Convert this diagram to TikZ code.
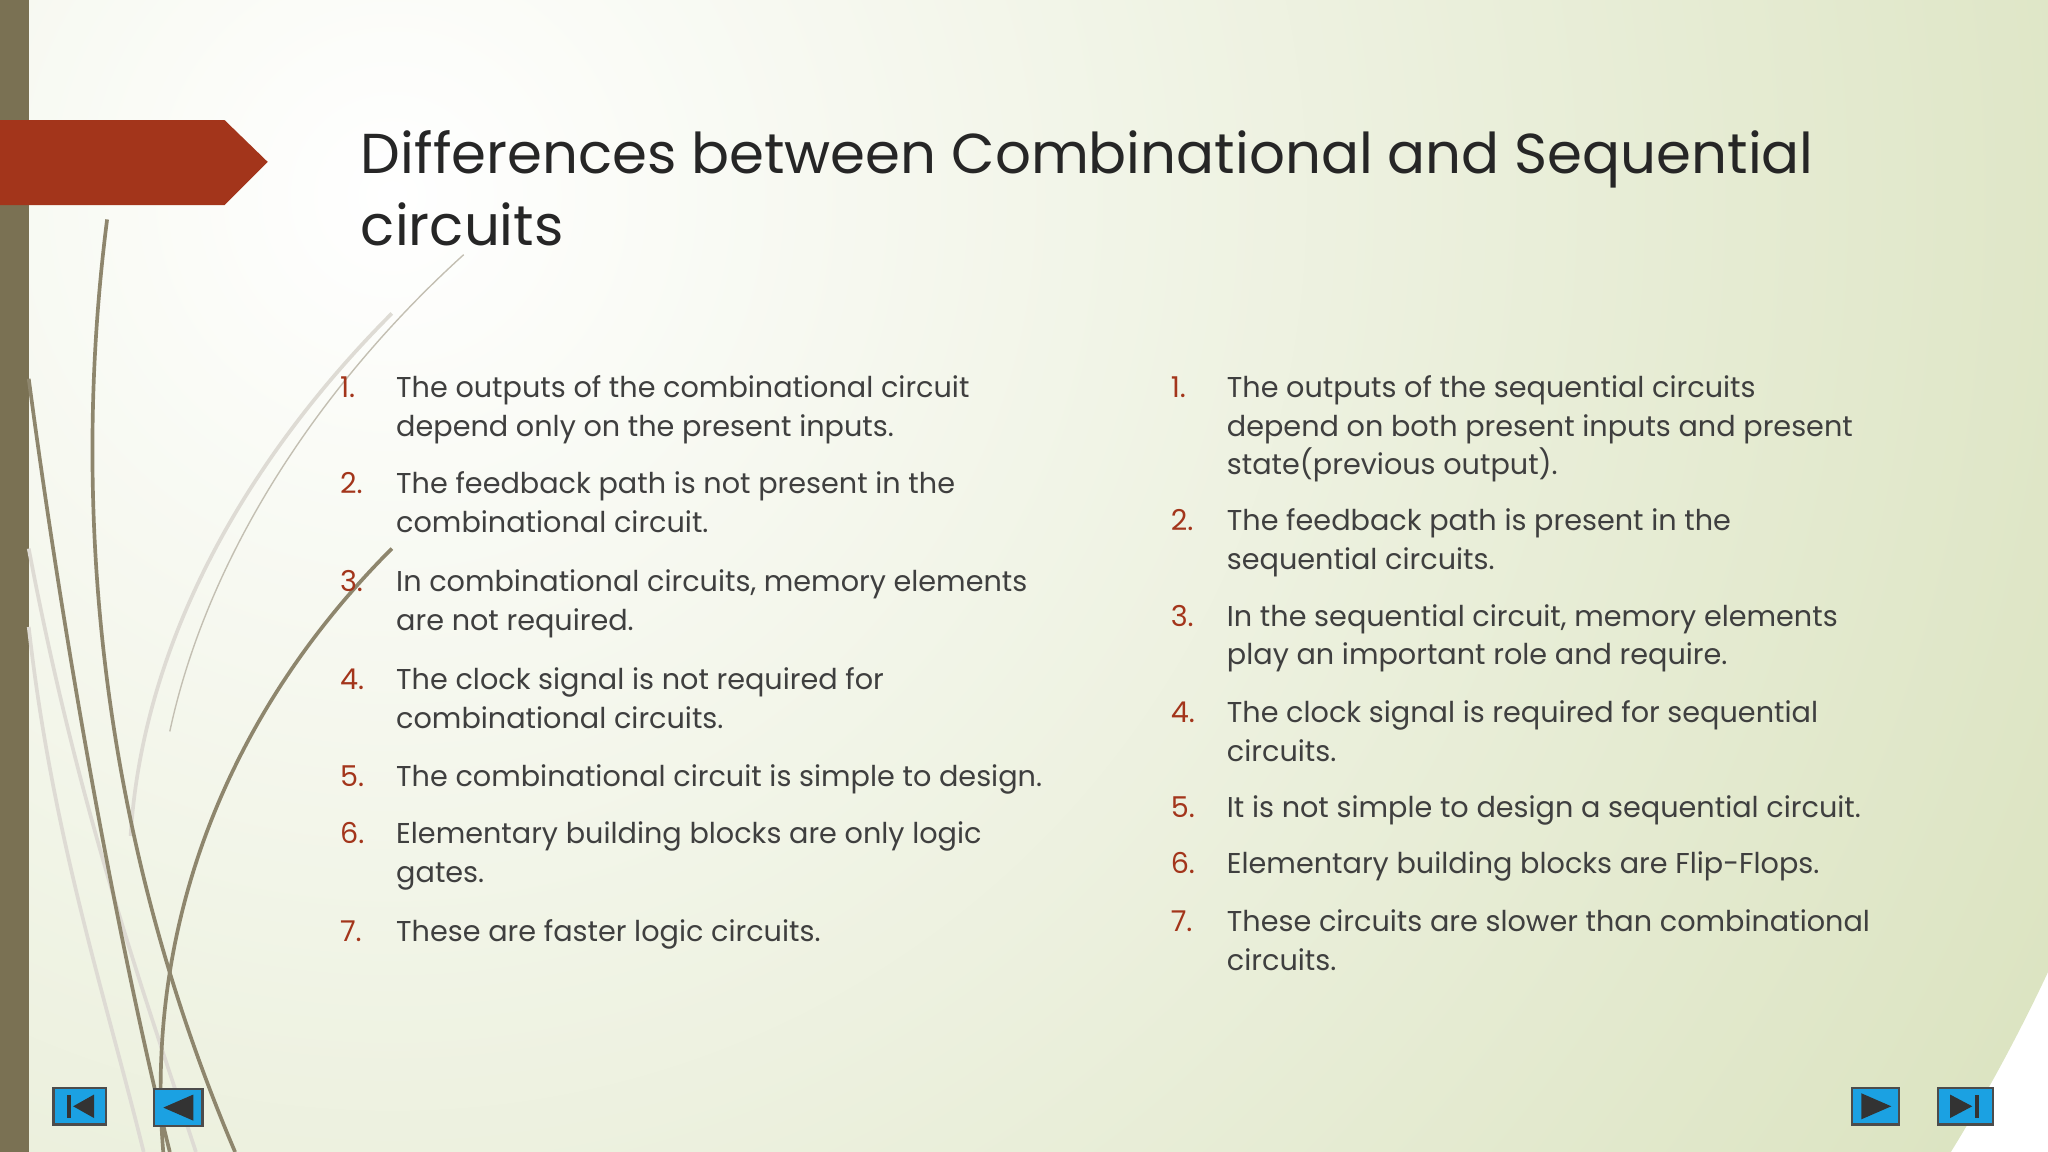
\documentclass[tikz,border=0pt]{standalone}
\usepackage{fontspec}
\setmainfont{Poppins}
\definecolor{numc}{HTML}{A3351B}
\definecolor{txt}{HTML}{3F3F3F}
\definecolor{olive}{HTML}{7A7153}
\definecolor{bg}{HTML}{DCE4C2}
\definecolor{btn}{HTML}{1BA1E2}
\tikzset{
 num/.style={anchor=base west,text=numc,font=\fontsize{12.5}{14}\selectfont,inner sep=0},
 ln/.style={anchor=base west,text=txt,font=\fontsize{12.5}{14}\selectfont,inner sep=0},
 ttl/.style={anchor=base west,text=black!85,font=\fontsize{24.5}{28}\selectfont,inner sep=0},
 curve/.style={line width=1.6pt,draw=olive!85},
 lcurve/.style={line width=1.6pt,draw=olive!25},
 btnbox/.style={fill=btn,draw=black!70,line width=1pt},
}
\begin{document}
\begin{tikzpicture}[x=0.02cm,y=-0.02cm]
\useasboundingbox (0,0) rectangle (1568,882);
\shade[inner color=white,outer color=bg] (300,150) circle (1400);
\fill[olive] (0,0) rectangle (22,882);
% curves
\draw[lcurve] (22,420) .. controls (60,620) and (110,760) .. (150,882);
\draw[lcurve] (22,480) .. controls (40,640) and (80,760) .. (110,882);
\draw[lcurve] (300,240) .. controls (200,340) and (110,480) .. (100,640);
\draw[line width=0.6pt,draw=olive!45] (355,195) .. controls (250,290) and (160,420) .. (130,560);
\draw[curve] (82,168) .. controls (60,340) and (60,600) .. (180,882);
\draw[curve] (22,290) .. controls (50,500) and (90,720) .. (130,882);
\draw[curve] (300,420) .. controls (180,540) and (110,700) .. (125,882);
\fill[numc] (0,92) -- (172,92) -- (205,124) -- (172,157) -- (0,157) -- cycle;
% title
\node[ttl] (t1) at (276,133) {Differences between Combinational and Sequential};
\node[ttl] (t2) at (276,188) {circuits};
% left column
\node[num] (l1) at (260,304) {1.};
\node[ln] (l1a) at (303,304) {The outputs of the combinational circuit};
\node[ln] (l1b) at (303,334) {depend only on the present inputs.};
\node[num] (l2) at (260,378) {2.};
\node[ln] (l2a) at (303,378) {The feedback path is not present in the};
\node[ln] (l2b) at (303,408) {combinational circuit.};
\node[num] (l3) at (260,453) {3.};
\node[ln] (l3a) at (303,453) {In combinational circuits, memory elements};
\node[ln] (l3b) at (303,483) {are not required.};
\node[num] (l4) at (260,528) {4.};
\node[ln] (l4a) at (303,528) {The clock signal is not required for};
\node[ln] (l4b) at (303,558) {combinational circuits.};
\node[num] (l5) at (260,602) {5.};
\node[ln] (l5a) at (303,602) {The combinational circuit is simple to design.};
\node[num] (l6) at (260,646) {6.};
\node[ln] (l6a) at (303,646) {Elementary building blocks are only logic};
\node[ln] (l6b) at (303,676) {gates.};
\node[num] (l7) at (260,721) {7.};
\node[ln] (l7a) at (303,721) {These are faster logic circuits.};
% right column
\node[num] (r1) at (896,304) {1.};
\node[ln] (r1a) at (939,304) {The outputs of the sequential circuits};
\node[ln] (r1b) at (939,334) {depend on both present inputs and present};
\node[ln] (r1c) at (939,363) {state(previous output).};
\node[num] (r2) at (896,406) {2.};
\node[ln] (r2a) at (939,406) {The feedback path is present in the};
\node[ln] (r2b) at (939,436) {sequential circuits.};
\node[num] (r3) at (896,480) {3.};
\node[ln] (r3a) at (939,480) {In the sequential circuit, memory elements};
\node[ln] (r3b) at (939,509) {play an important role and require.};
\node[num] (r4) at (896,553) {4.};
\node[ln] (r4a) at (939,553) {The clock signal is required for sequential};
\node[ln] (r4b) at (939,583) {circuits.};
\node[num] (r5) at (896,626) {5.};
\node[ln] (r5a) at (939,626) {It is not simple to design a sequential circuit.};
\node[num] (r6) at (896,669) {6.};
\node[ln] (r6a) at (939,669) {Elementary building blocks are Flip-Flops.};
\node[num] (r7) at (896,713) {7.};
\node[ln] (r7a) at (939,713) {These circuits are slower than combinational};
\node[ln] (r7b) at (939,743) {circuits.};
% buttons
\draw[btnbox] (41,833) rectangle (81,861);
\fill[black!80] (51,838) rectangle (54,856);
\fill[black!80] (72,838) -- (72,856) -- (56,847) -- cycle;
\draw[btnbox] (118,834) rectangle (155,862);
\fill[black!80] (148,838) -- (148,858) -- (125,848) -- cycle;
\draw[btnbox] (1418,833) rectangle (1454,861);
\fill[black!80] (1425,837) -- (1425,857) -- (1448,847) -- cycle;
\draw[btnbox] (1484,833) rectangle (1526,861);
\fill[black!80] (1493,838) -- (1493,856) -- (1510,847) -- cycle;
\fill[black!80] (1512,838) rectangle (1515,856);
\end{tikzpicture}
\end{document}
